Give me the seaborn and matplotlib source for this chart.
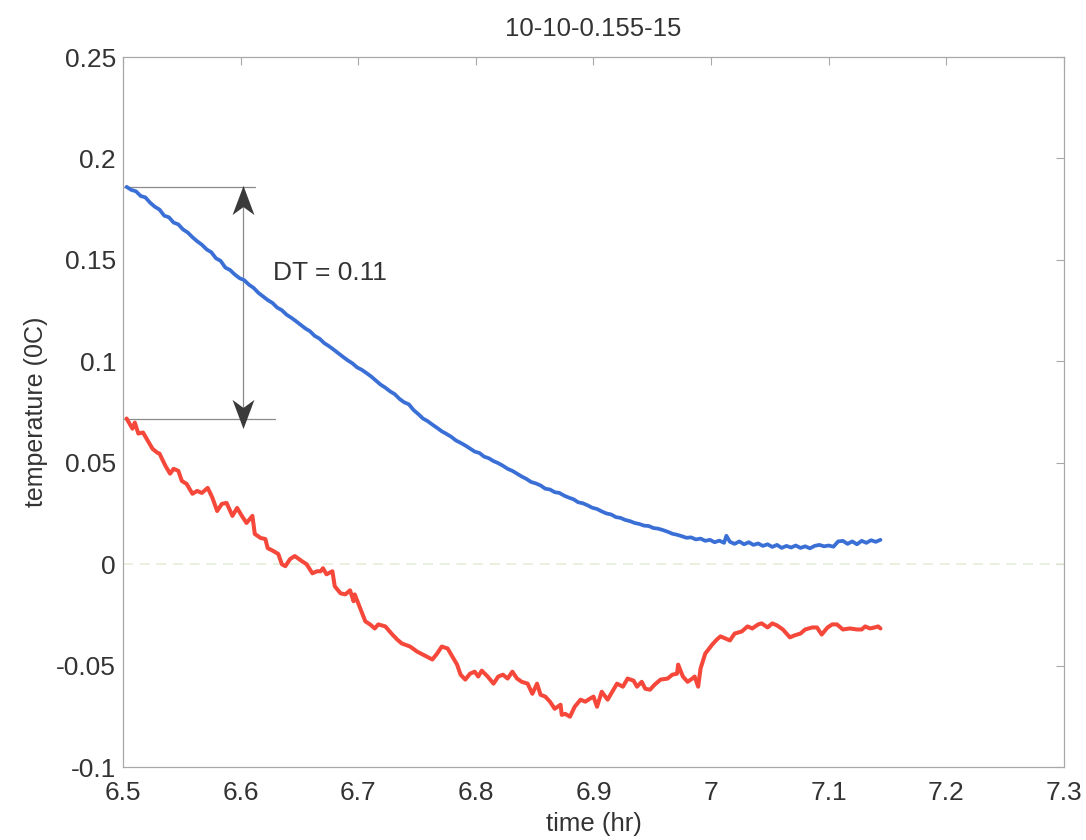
import matplotlib
matplotlib.use("Agg")
import matplotlib.pyplot as plt
from matplotlib.path import Path
import seaborn as sns
import pandas as pd

# ---------------- data ----------------
title = "10-10-0.155-15"
x_label = "time (hr)"
y_label = "temperature (0C)"
x_ticks = [6.5, 6.6, 6.7, 6.8, 6.9, 7.0, 7.1, 7.2, 7.3]
x_tick_labels = ["6.5", "6.6", "6.7", "6.8", "6.9", "7", "7.1", "7.2", "7.3"]
y_ticks = [-0.1, -0.05, 0, 0.05, 0.1, 0.15, 0.2, 0.25]
y_tick_labels = ["-0.1", "-0.05", "0", "0.05", "0.1", "0.15", "0.2", "0.25"]

blue_t = [6.503, 6.507, 6.511, 6.515, 6.519, 6.523, 6.527, 6.531, 6.535, 6.539,
          6.543, 6.547, 6.551, 6.555, 6.559, 6.563, 6.567, 6.571, 6.575, 6.579,
          6.583, 6.587, 6.591, 6.595, 6.599, 6.603, 6.607, 6.611, 6.615, 6.619,
          6.623, 6.627, 6.631, 6.635, 6.639, 6.643, 6.647, 6.651, 6.655, 6.659,
          6.663, 6.667, 6.671, 6.675, 6.679, 6.683, 6.687, 6.691, 6.695, 6.699,
          6.703, 6.707, 6.711, 6.715, 6.719, 6.723, 6.727, 6.731, 6.735, 6.739,
          6.743, 6.747, 6.751, 6.755, 6.759, 6.763, 6.767, 6.771, 6.775, 6.779,
          6.783, 6.787, 6.791, 6.795, 6.799, 6.803, 6.807, 6.811, 6.815, 6.819,
          6.823, 6.827, 6.831, 6.835, 6.839, 6.843, 6.847, 6.851, 6.855, 6.859,
          6.863, 6.867, 6.871, 6.875, 6.879, 6.883, 6.887, 6.891, 6.895, 6.899,
          6.903, 6.907, 6.911, 6.915, 6.919, 6.923, 6.927, 6.931, 6.935, 6.939,
          6.943, 6.947, 6.951, 6.955, 6.959, 6.963, 6.967, 6.971, 6.975, 6.979,
          6.983, 6.987, 6.991, 6.995, 6.999, 7.003, 7.007, 7.011, 7.013, 7.016,
          7.020, 7.024, 7.028, 7.032, 7.036, 7.040, 7.044, 7.048, 7.052, 7.056,
          7.060, 7.064, 7.068, 7.072, 7.076, 7.080, 7.084, 7.088, 7.092, 7.096,
          7.100, 7.104, 7.108, 7.112, 7.116, 7.120, 7.124, 7.128, 7.132, 7.136,
          7.140, 7.144]
blue_T = [0.1860, 0.1845, 0.1838, 0.1815, 0.1808, 0.1782, 0.1762, 0.1748, 0.1718, 0.1710,
          0.1684, 0.1675, 0.1650, 0.1635, 0.1612, 0.1592, 0.1575, 0.1552, 0.1538, 0.1508,
          0.1495, 0.1462, 0.1450, 0.1428, 0.1410, 0.1400, 0.1378, 0.1362, 0.1338, 0.1320,
          0.1302, 0.1288, 0.1265, 0.1252, 0.1230, 0.1215, 0.1198, 0.1180, 0.1162, 0.1148,
          0.1125, 0.1112, 0.1090, 0.1075, 0.1058, 0.1040, 0.1022, 0.1005, 0.0990, 0.0970,
          0.0958, 0.0942, 0.0925, 0.0905, 0.0885, 0.0870, 0.0852, 0.0838, 0.0815, 0.0798,
          0.0788, 0.0760, 0.0740, 0.0718, 0.0705, 0.0688, 0.0672, 0.0655, 0.0642, 0.0628,
          0.0610, 0.0598, 0.0585, 0.0570, 0.0555, 0.0548, 0.0530, 0.0522, 0.0508, 0.0498,
          0.0485, 0.0470, 0.0460, 0.0446, 0.0432, 0.0420, 0.0405, 0.0398, 0.0388, 0.0372,
          0.0368, 0.0355, 0.0351, 0.0338, 0.0328, 0.0320, 0.0305, 0.0300, 0.0290, 0.0278,
          0.0272, 0.0260, 0.0250, 0.0245, 0.0232, 0.0228, 0.0218, 0.0212, 0.0203, 0.0198,
          0.0190, 0.0188, 0.0178, 0.0175, 0.0168, 0.0160, 0.0150, 0.0145, 0.0138, 0.0130,
          0.0132, 0.0122, 0.0126, 0.0115, 0.0120, 0.0108, 0.0116, 0.0105, 0.0140, 0.0110,
          0.0100, 0.0112, 0.0098, 0.0108, 0.0095, 0.0102, 0.0090, 0.0098, 0.0085, 0.0095,
          0.0080, 0.0090, 0.0082, 0.0092, 0.0080, 0.0088, 0.0078, 0.0090, 0.0095, 0.0088,
          0.0092, 0.0086, 0.0112, 0.0115, 0.0100, 0.0112, 0.0098, 0.0115, 0.0105, 0.0118,
          0.0110, 0.0120]

red_t = [6.503, 6.508, 6.510, 6.513, 6.517, 6.520, 6.525, 6.529, 6.531, 6.536,
         6.540, 6.543, 6.547, 6.550, 6.554, 6.559, 6.563, 6.567, 6.572, 6.576,
         6.580, 6.584, 6.588, 6.593, 6.597, 6.601, 6.605, 6.610, 6.612, 6.617,
         6.621, 6.623, 6.628, 6.632, 6.635, 6.638, 6.642, 6.646, 6.652, 6.656,
         6.661, 6.665, 6.668, 6.670, 6.673, 6.678, 6.680, 6.685, 6.689, 6.693,
         6.696, 6.697, 6.702, 6.706, 6.710, 6.714, 6.717, 6.723, 6.729, 6.733,
         6.737, 6.744, 6.750, 6.755, 6.763, 6.767, 6.771, 6.776, 6.780, 6.784,
         6.787, 6.791, 6.795, 6.799, 6.802, 6.805, 6.810, 6.815, 6.819, 6.823,
         6.827, 6.831, 6.835, 6.839, 6.844, 6.848, 6.852, 6.855, 6.859, 6.863,
         6.867, 6.872, 6.873, 6.876, 6.880, 6.884, 6.889, 6.893, 6.897, 6.900,
         6.903, 6.907, 6.912, 6.916, 6.920, 6.925, 6.929, 6.934, 6.937, 6.941,
         6.944, 6.948, 6.952, 6.957, 6.963, 6.967, 6.971, 6.972, 6.976, 6.980,
         6.984, 6.986, 6.989, 6.991, 6.995, 7.001, 7.005, 7.008, 7.012, 7.016,
         7.020, 7.026, 7.031, 7.035, 7.040, 7.043, 7.048, 7.052, 7.056, 7.061,
         7.067, 7.071, 7.076, 7.080, 7.086, 7.090, 7.094, 7.099, 7.103, 7.107,
         7.112, 7.118, 7.124, 7.128, 7.131, 7.135, 7.139, 7.142, 7.144]
red_T = [0.0718, 0.0668, 0.0698, 0.0644, 0.0649, 0.0619, 0.0569, 0.0550, 0.0545, 0.0485,
         0.0446, 0.0470, 0.0460, 0.0410, 0.0396, 0.0347, 0.0361, 0.0351, 0.0376, 0.0327,
         0.0262, 0.0297, 0.0302, 0.0238, 0.0277, 0.0238, 0.0203, 0.0238, 0.0149, 0.0129,
         0.0124, 0.0079, 0.0064, 0.0050, 0.0000, -0.0010, 0.0025, 0.0040, 0.0015, 0.0000,
         -0.0045, -0.0035, -0.0035, -0.0020, -0.0050, -0.0035, -0.0109, -0.0144, -0.0149, -0.0129,
         -0.0183, -0.0149, -0.0223, -0.0282, -0.0297, -0.0317, -0.0297, -0.0307, -0.0347, -0.0371,
         -0.0391, -0.0406, -0.0431, -0.0446, -0.0470, -0.0441, -0.0406, -0.0416, -0.0455, -0.0495,
         -0.0545, -0.0569, -0.0540, -0.0530, -0.0554, -0.0525, -0.0554, -0.0589, -0.0554, -0.0545,
         -0.0564, -0.0530, -0.0564, -0.0580, -0.0589, -0.0639, -0.0589, -0.0644, -0.0653, -0.0678,
         -0.0713, -0.0693, -0.0743, -0.0738, -0.0752, -0.0703, -0.0668, -0.0678, -0.0663, -0.0653,
         -0.0703, -0.0629, -0.0668, -0.0629, -0.0589, -0.0604, -0.0564, -0.0574, -0.0604, -0.0580,
         -0.0614, -0.0619, -0.0594, -0.0569, -0.0564, -0.0545, -0.0540, -0.0495, -0.0554, -0.0580,
         -0.0564, -0.0554, -0.0604, -0.0515, -0.0441, -0.0396, -0.0371, -0.0356, -0.0366, -0.0376,
         -0.0342, -0.0332, -0.0307, -0.0317, -0.0297, -0.0292, -0.0312, -0.0292, -0.0302, -0.0322,
         -0.0361, -0.0351, -0.0342, -0.0322, -0.0312, -0.0312, -0.0347, -0.0312, -0.0297, -0.0297,
         -0.0322, -0.0317, -0.0322, -0.0322, -0.0307, -0.0317, -0.0312, -0.0307, -0.0317]

dt_top = 0.1861
dt_bottom = 0.0718
dt_x = 6.602
dt_text = "DT = 0.11"

# ---------------- style ----------------
sns.set_style("white")
plt.rcParams["font.family"] = ["Liberation Sans", "DejaVu Sans"]
text_color = "#333333"
axis_color = "#a8a8a8"

fig = plt.figure(figsize=(10.86, 8.4), dpi=100)
ax = fig.add_axes([0.1133, 0.0869, 0.8664, 0.8452])

blue_df = pd.DataFrame({"t": blue_t, "T": blue_T})
red_df = pd.DataFrame({"t": red_t, "T": red_T})

ax.axhline(0, color="#e6eed8", lw=1.2, ls=(0, (6, 4)), zorder=1)

sns.lineplot(data=blue_df, x="t", y="T", ax=ax, color="#3a6fd6", lw=2.7,
             sort=False, estimator=None, zorder=3)
sns.lineplot(data=red_df, x="t", y="T", ax=ax, color="#f5483a", lw=2.9,
             sort=False, estimator=None, zorder=3)

# DT annotation
ax.plot([6.5, 6.612], [dt_top, dt_top], color="#8a8a8a", lw=0.9, zorder=2)
ax.plot([6.5, 6.629], [dt_bottom, dt_bottom], color="#8a8a8a", lw=0.9, zorder=2)
ax.plot([dt_x, dt_x], [dt_top, dt_bottom], color="#8a8a8a", lw=0.9, zorder=2)
arrow_up = Path([(0, 1), (-0.75, -1), (0, -0.45), (0.75, -1), (0, 1)],
                [Path.MOVETO, Path.LINETO, Path.LINETO, Path.LINETO, Path.CLOSEPOLY])
arrow_down = Path([(0, -1), (-0.75, 1), (0, 0.45), (0.75, 1), (0, -1)],
                  [Path.MOVETO, Path.LINETO, Path.LINETO, Path.LINETO, Path.CLOSEPOLY])
ax.plot([dt_x], [0.1795], marker=arrow_up, markersize=21, color="#3a3a3a",
        markeredgewidth=0, zorder=4)
ax.plot([dt_x], [0.0738], marker=arrow_down, markersize=21, color="#3a3a3a",
        markeredgewidth=0, zorder=4)
ax.text(6.6276, 0.1436, dt_text, fontsize=19, color=text_color, va="center", ha="left")

# axes
ax.set_xlim(6.5, 7.3)
ax.set_ylim(-0.1, 0.25)
ax.set_xticks(x_ticks)
ax.set_xticklabels(x_tick_labels)
ax.set_yticks(y_ticks)
ax.set_yticklabels(y_tick_labels)
ax.tick_params(axis="both", direction="in", length=6, width=0.8, color=axis_color,
               labelcolor=text_color, labelsize=19, top=True, right=True)
ax.tick_params(axis="x", pad=10)
ax.tick_params(axis="y", pad=5)
for s in ax.spines.values():
    s.set_color(axis_color)
    s.set_linewidth(0.9)
    s.set_visible(True)

ax.set_xlabel(x_label, fontsize=18.5, color=text_color, labelpad=5)
ax.set_ylabel(y_label, fontsize=18, color=text_color, labelpad=6)
ax.set_title(title, fontsize=18.5, color=text_color, pad=15)

fig.savefig("out.png", dpi=100, facecolor="white")
